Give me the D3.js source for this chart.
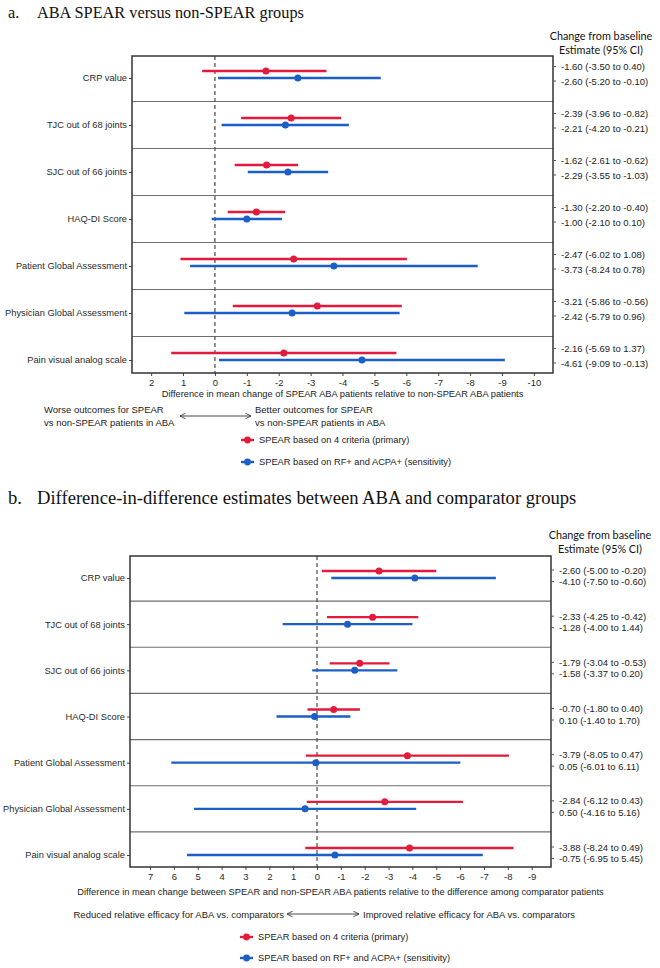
<!DOCTYPE html>
<html><head><meta charset="utf-8">
<script src="https://cdn.jsdelivr.net/npm/d3@7"></script>
<style>body{margin:0;background:#fff}</style>
</head><body>
<svg id="c" width="660" height="968"></svg>
<script>
const categories = ["CRP value","TJC out of 68 joints","SJC out of 66 joints","HAQ-DI Score","Patient Global Assessment","Physician Global Assessment","Pain visual analog scale"];
const aPrimaryEst  = [-1.60,-2.39,-1.62,-1.30,-2.47,-3.21,-2.16];
const aPrimaryLow  = [-3.50,-3.96,-2.61,-2.20,-6.02,-5.86,-5.69];
const aPrimaryHigh = [0.40,-0.82,-0.62,-0.40,1.08,-0.56,1.37];
const aSensEst  = [-2.60,-2.21,-2.29,-1.00,-3.73,-2.42,-4.61];
const aSensLow  = [-5.20,-4.20,-3.55,-2.10,-8.24,-5.79,-9.09];
const aSensHigh = [-0.10,-0.21,-1.03,0.10,0.78,0.96,-0.13];
const bPrimaryEst  = [-2.60,-2.33,-1.79,-0.70,-3.79,-2.84,-3.88];
const bPrimaryLow  = [-5.00,-4.25,-3.04,-1.80,-8.05,-6.12,-8.24];
const bPrimaryHigh = [-0.20,-0.42,-0.53,0.40,0.47,0.43,0.49];
const bSensEst  = [-4.10,-1.28,-1.58,0.10,0.05,0.50,-0.75];
const bSensLow  = [-7.50,-4.00,-3.37,-1.40,-6.01,-4.16,-6.95];
const bSensHigh = [-0.60,1.44,0.20,1.70,6.11,5.16,5.45];
const aTicks = [2,1,0,-1,-2,-3,-4,-5,-6,-7,-8,-9,-10];
const bTicks = [7,6,5,4,3,2,1,0,-1,-2,-3,-4,-5,-6,-7,-8,-9];
const seriesNames = ["SPEAR based on 4 criteria (primary)","SPEAR based on RF+ and ACPA+ (sensitivity)"];
const headerLines = ["Change from baseline","Estimate (95% CI)"];

const RED = "#E21B3C", BLUE = "#1B5EC6";
const SANS = "'Liberation Sans', Arial, sans-serif";
const svg = d3.select("#c");

function fmt(v){ return v.toFixed(2); }

function drawPanel(cfg){
  const g = svg.append("g");
  const x = d3.scaleLinear().domain(cfg.domain).range([cfg.left, cfg.right]);
  const y = d3.scalePoint().domain(categories).range(cfg.catRange);
  const top = y(categories[0]) - cfg.padTop;
  const bottom = y(categories[categories.length-1]) + cfg.padBottom;

  // title
  const t = g.append("text").attr("x", 8).attr("y", cfg.titleY)
    .attr("font-family","'Liberation Serif', 'Times New Roman', serif").attr("font-size", cfg.titleSize).attr("fill","#111");
  t.append("tspan").text(cfg.titleLetter);
  t.append("tspan").attr("x", 37).text(cfg.titleText);

  // header
  headerLines.forEach((h,i)=>{
    g.append("text").attr("x", cfg.headerX).attr("y", cfg.headerY + i*14.3)
      .attr("text-anchor","middle").attr("dominant-baseline","central")
      .attr("font-family","Lato, 'Open Sans', sans-serif").attr("font-size", 10.8).attr("fill","#111").text(h);
  });

  // separators
  for(let i=1;i<categories.length;i++){
    const yy = (y(categories[i-1]) + y(categories[i]))/2;
    g.append("line").attr("x1", cfg.left).attr("x2", cfg.right).attr("y1", yy).attr("y2", yy)
      .attr("stroke", "#6e6e6e").attr("stroke-width", 1.2);
  }
  // zero line
  g.append("line").attr("x1", x(0)).attr("x2", x(0)).attr("y1", top).attr("y2", bottom)
    .attr("stroke","#555").attr("stroke-width",1.3).attr("stroke-dasharray","4,3");

  // left axis
  const ya = g.append("g").attr("transform",`translate(${cfg.left},0)`)
    .call(d3.axisLeft(y).tickSize(3).tickPadding(2));
  ya.select(".domain").remove();
  ya.selectAll("line").attr("stroke","#444");
  ya.selectAll("text").attr("font-family",SANS).attr("font-size",9.3).attr("fill","#2a2a2a");

  // bottom axis
  const xa = g.append("g").attr("transform",`translate(0,${bottom})`)
    .call(d3.axisBottom(x).tickValues(cfg.ticks).tickFormat(d=>String(d)).tickSize(3).tickPadding(3));
  xa.select(".domain").remove();
  xa.selectAll("line").attr("stroke","#444");
  xa.selectAll("text").attr("font-family",SANS).attr("font-size",9.5).attr("fill","#2a2a2a");

  // axis title
  g.append("text").attr("x",(cfg.left+cfg.right)/2).attr("y", cfg.axisTitleY)
    .attr("text-anchor","middle").attr("dominant-baseline","central")
    .attr("font-family",SANS).attr("font-size",cfg.axisTitleSize).attr("fill","#222").text(cfg.axisTitle);

  // intervals
  const series = [
    {est: cfg.pEst, lo: cfg.pLow, hi: cfg.pHigh, color: RED, off: -7},
    {est: cfg.sEst, lo: cfg.sLow, hi: cfg.sHigh, color: BLUE, off: 0}
  ];
  series.forEach(s=>{
    const gg = g.append("g");
    gg.selectAll("line").data(categories).join("line")
      .attr("x1",(d,i)=>x(s.lo[i])).attr("x2",(d,i)=>x(s.hi[i]))
      .attr("y1",d=>y(d)+s.off).attr("y2",d=>y(d)+s.off)
      .attr("stroke",s.color).attr("stroke-width",2.4);
    gg.selectAll("circle").data(categories).join("circle")
      .attr("cx",(d,i)=>x(s.est[i])).attr("cy",d=>y(d)+s.off).attr("r",3.5).attr("fill",s.color);
  });

  // box
  g.append("rect").attr("x",cfg.left).attr("y",top).attr("width",cfg.right-cfg.left).attr("height",bottom-top)
    .attr("fill","none").attr("stroke","#333").attr("stroke-width",1.5);

  // right table labels
  categories.forEach((c,i)=>{
    const rows = [
      `${fmt(cfg.pEst[i])} (${fmt(cfg.pLow[i])} to ${fmt(cfg.pHigh[i])})`,
      `${fmt(cfg.sEst[i])} (${fmt(cfg.sLow[i])} to ${fmt(cfg.sHigh[i])})`
    ];
    rows.forEach((r,k)=>{
      const yy = y(c) + cfg.labelOff[k];
      g.append("line").attr("x1",cfg.right).attr("x2",cfg.right+3).attr("y1",yy).attr("y2",yy).attr("stroke","#555");
      g.append("text").attr("x",cfg.right+8).attr("y",yy).attr("dominant-baseline","central")
        .attr("font-family",SANS).attr("font-size",9.5).attr("fill","#222").text(r);
    });
  });

  // annotation
  const an = cfg.annot;
  an.leftLines.forEach((l,i)=>{
    g.append("text").attr("x",an.leftX).attr("y",an.y + i*an.lineGap).attr("dominant-baseline","central")
      .attr("text-anchor",an.leftAnchor).attr("font-family",SANS).attr("font-size",9.5).attr("fill","#222").text(l);
  });
  an.rightLines.forEach((l,i)=>{
    g.append("text").attr("x",an.rightX).attr("y",an.y + i*an.lineGap).attr("dominant-baseline","central")
      .attr("font-family",SANS).attr("font-size",9.5).attr("fill","#222").text(l);
  });
  g.append("line").attr("x1",an.arrow[0]).attr("x2",an.arrow[1]).attr("y1",an.arrowY).attr("y2",an.arrowY)
    .attr("stroke","#333").attr("stroke-width",0.9)
    .attr("marker-start","url(#arrS)").attr("marker-end","url(#arrE)");

  // legend
  seriesNames.forEach((n,i)=>{
    const ly = cfg.legendY[i];
    const col = i===0?RED:BLUE;
    g.append("line").attr("x1",cfg.legendX).attr("x2",cfg.legendX+13).attr("y1",ly).attr("y2",ly)
      .attr("stroke",col).attr("stroke-width",2.4);
    g.append("circle").attr("cx",cfg.legendX+6.5).attr("cy",ly).attr("r",3.4).attr("fill",col);
    g.append("text").attr("x",cfg.legendX+18).attr("y",ly).attr("dominant-baseline","central")
      .attr("font-family",SANS).attr("font-size",9.3).attr("fill","#222").text(n);
  });
}

const defs = svg.append("defs");
defs.append("marker").attr("id","arrE").attr("viewBox","0 0 10 10").attr("refX",9).attr("refY",5)
  .attr("markerWidth",7).attr("markerHeight",7).attr("markerUnits","userSpaceOnUse").attr("orient","auto")
  .append("path").attr("d","M1,1 L9,5 L1,9").attr("fill","none").attr("stroke","#333").attr("stroke-width",1.2);
defs.append("marker").attr("id","arrS").attr("viewBox","0 0 10 10").attr("refX",1).attr("refY",5)
  .attr("markerWidth",7).attr("markerHeight",7).attr("markerUnits","userSpaceOnUse").attr("orient","auto")
  .append("path").attr("d","M9,1 L1,5 L9,9").attr("fill","none").attr("stroke","#333").attr("stroke-width",1.2);

drawPanel({
  titleLetter:"a.", titleText:"ABA SPEAR versus non-SPEAR groups", titleY:18, titleSize:16.3,
  headerX:601, headerY:35,
  left:132, right:553, catRange:[78,360], padTop:22, padBottom:13,
  domain:[2.6,-10.6], ticks:aTicks,
  axisTitle:"Difference in mean change of SPEAR ABA patients relative to non-SPEAR ABA patients",
  axisTitleY:394, axisTitleSize:9.3,
  pEst:aPrimaryEst, pLow:aPrimaryLow, pHigh:aPrimaryHigh,
  sEst:aSensEst, sLow:aSensLow, sHigh:aSensHigh,
  labelOff:[-11.5,3],
  annot:{leftLines:["Worse outcomes for SPEAR","vs non-SPEAR patients in ABA"], leftX:44, leftAnchor:"start",
         rightLines:["Better outcomes for SPEAR","vs non-SPEAR patients in ABA"], rightX:255,
         y:409, lineGap:13.5, arrow:[180,251], arrowY:416},
  legendX:241, legendY:[440,462]
});

drawPanel({
  titleLetter:"b.", titleText:"Difference-in-difference estimates between ABA and comparator groups", titleY:504, titleSize:18.6,
  headerX:600, headerY:534,
  left:130, right:551, catRange:[578,855], padTop:22, padBottom:12,
  domain:[7.84,-9.81], ticks:bTicks,
  axisTitle:"Difference in mean change between SPEAR and non-SPEAR ABA patients relative to the difference among comparator patients",
  axisTitleY:892, axisTitleSize:9.3,
  pEst:bPrimaryEst, pLow:bPrimaryLow, pHigh:bPrimaryHigh,
  sEst:bSensEst, sLow:bSensLow, sHigh:bSensHigh,
  labelOff:[-8,3.5],
  annot:{leftLines:["Reduced relative efficacy for ABA vs. comparators"], leftX:284, leftAnchor:"end",
         rightLines:["Improved relative efficacy for ABA vs. comparators"], rightX:363,
         y:914, lineGap:13, arrow:[287,359], arrowY:914},
  legendX:240, legendY:[937,958]
});
</script>
</body></html>
